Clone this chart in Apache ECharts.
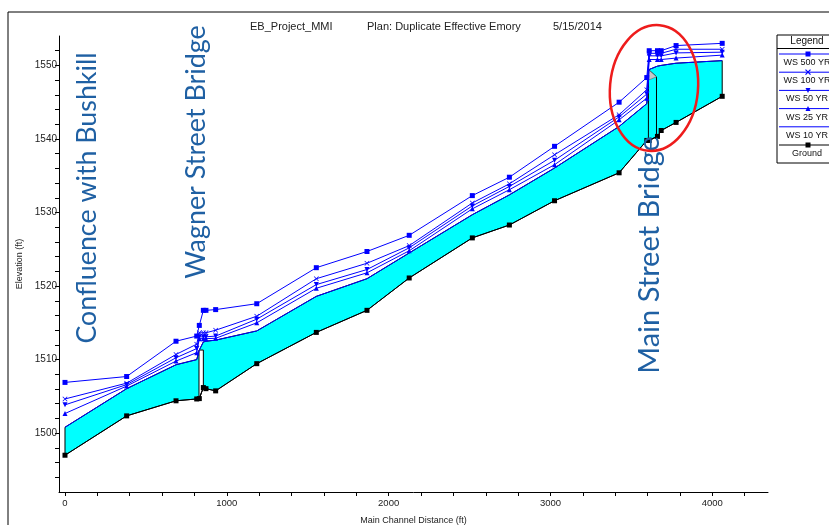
<!DOCTYPE html>
<html><head><meta charset="utf-8">
<script src="https://cdn.jsdelivr.net/npm/echarts@6/dist/echarts.min.js"></script>
<style>html,body{margin:0;padding:0;background:#fff}#c{width:829px;height:525px}</style>
</head><body><div id="c"></div>
<script>
// ---- data ----
const stations = [0, 381, 686, 814, 830, 855, 871, 931, 1185, 1553, 1866, 2127, 2517, 2746, 3025, 3424, 3595, 3610, 3661, 3684, 3776, 4061];
const ws500 = [1506.9, 1507.7, 1512.5, 1513.2, 1514.65, 1516.7, 1516.7, 1516.8, 1517.6, 1522.5, 1524.7, 1526.9, 1532.3, 1534.8, 1539.0, 1545.0, 1548.35, 1552.0, 1552.0, 1552.0, 1552.7, 1553.0];
const ws100 = [1504.65, 1506.8, 1510.7, 1512.1, 1513.65, 1513.65, 1513.65, 1514.0, 1515.9, 1521.0, 1523.1, 1525.5, 1531.3, 1533.9, 1537.85, 1543.3, 1546.7, 1551.65, 1551.65, 1551.65, 1552.2, 1552.2];
const ws50 = [1503.85, 1506.6, 1510.25, 1511.5, 1513.1, 1513.1, 1513.1, 1513.2, 1515.5, 1520.2, 1522.25, 1525.2, 1530.9, 1533.55, 1537.1, 1543.0, 1546.1, 1551.3, 1551.3, 1551.3, 1551.7, 1551.8];
const ws25 = [1502.67, 1506.4, 1509.8, 1510.95, 1512.85, 1512.85, 1512.85, 1512.9, 1515.0, 1519.7, 1521.8, 1524.8, 1530.5, 1533.1, 1536.5, 1542.6, 1545.55, 1550.8, 1550.8, 1550.8, 1551.0, 1551.4];
const ws10 = [1500.8, 1506.05, 1509.3, 1510.0, 1511.3, 1512.4, 1512.5, 1512.65, 1513.9, 1518.6, 1521.0, 1524.5, 1529.7, 1532.4, 1536.05, 1541.7, 1544.8, 1549.45, 1549.9, 1550.0, 1550.3, 1550.65];
const ground = [1497.0, 1502.35, 1504.4, 1504.65, 1504.7, 1506.2, 1506.05, 1505.75, 1509.45, 1513.7, 1516.7, 1521.1, 1526.55, 1528.3, 1531.6, 1535.4, 1539.8, 1539.8, 1540.35, 1541.15, 1542.25, 1545.8];

const wagnerBridgeX = [828, 855];
const wagnerBridgeTop = [1511.3, 1511.3];
const wagnerBridgeBottom = [1504.7, 1506.2];
const mainBridgeX = [3605, 3655];
const mainBridgeTop = [1549.45, 1548.45];
const mainBridgeBottom = [1539.8, 1540.3];
const mainDeckLow = [1548.0];

const xLabelValues = [0, 1000, 2000, 3000, 4000];
const xTickValues = [0, 200, 400, 600, 800, 1000, 1200, 1400, 1600, 1800, 2000, 2200, 2400, 2600, 2800, 3000, 3200, 3400, 3600, 3800, 4000, 4200];
const yLabelValues = [1500, 1510, 1520, 1530, 1540, 1550];
const yTickValues = [1494, 1496, 1498, 1500, 1502, 1504, 1506, 1508, 1510, 1512, 1514, 1516, 1518, 1520, 1522, 1524, 1526, 1528, 1530, 1532, 1534, 1536, 1538, 1540, 1542, 1544, 1546, 1548, 1550, 1552];

const legendNames = ['WS 500 YR', 'WS 100 YR', 'WS 50 YR', 'WS 25 YR', 'WS 10 YR', 'Ground'];
const annotations = ['Confluence with Bushkill', 'Wagner Street Bridge', 'Main Street Bridge'];

// ---- chart ----
const blue = '#0000ff';
const ff = '"Liberation Sans", Arial, sans-serif';
const xSym = 'path://M0,1L1,0L5,4L9,0L10,1L6,5L10,9L9,10L5,6L1,10L0,9L4,5Z';
const triDown = 'path://M0,0L10,0L5,10Z';

function pairs(ys) { return stations.map((s, i) => [s, ys[i]]); }

function wsSeries(name, ys, symbol) {
  return {
    name: name, type: 'line', data: pairs(ys), z: 5,
    symbol: symbol, symbolSize: symbol === 'none' ? 0 : 5, showSymbol: symbol !== 'none',
    lineStyle: { color: blue, width: 1 }, itemStyle: { color: blue },
    emphasis: { disabled: true }
  };
}

const chart = echarts.init(document.getElementById('c'), null, { renderer: 'canvas' });

const axisTxt = { fontFamily: ff, fontSize: 9, color: '#222' };
const plain = function (v) { return String(v); };

const option = {
  animation: false,
  title: [
    { text: 'EB_Project_MMI', left: 245, top: 16, textStyle: { fontFamily: ff, fontSize: 11, fontWeight: 'normal', color: '#222' } },
    { text: 'Plan: Duplicate Effective Emory', left: 362, top: 16, textStyle: { fontFamily: ff, fontSize: 11, fontWeight: 'normal', color: '#222' } },
    { text: '5/15/2014', left: 548, top: 16, textStyle: { fontFamily: ff, fontSize: 11, fontWeight: 'normal', color: '#222' } }
  ],
  grid: { left: 59, right: 61, top: 36, bottom: 33, containLabel: false, outerBoundsMode: 'none' },
  xAxis: {
    type: 'value', min: -37, max: 4344,
    name: 'Main Channel Distance (ft)', nameLocation: 'middle', nameGap: 24, nameTextStyle: axisTxt,
    axisLine: { show: true, onZero: false, lineStyle: { color: '#000', width: 1 } },
    axisTick: { show: true, customValues: xTickValues, length: 4, lineStyle: { color: '#000' } },
    axisLabel: { customValues: xLabelValues, formatter: plain, margin: 6, fontFamily: ff, fontSize: 9.5, color: '#222' },
    splitLine: { show: false }
  },
  yAxis: {
    type: 'value', min: 1492, max: 1554,
    name: 'Elevation (ft)', nameLocation: 'middle', nameGap: 33, nameTextStyle: axisTxt,
    axisLine: { show: true, onZero: false, lineStyle: { color: '#000', width: 1 } },
    axisTick: { show: true, customValues: yTickValues, length: 4, lineStyle: { color: '#000' } },
    axisLabel: { customValues: yLabelValues, formatter: plain, margin: 2, fontFamily: ff, fontSize: 10, color: '#222' },
    splitLine: { show: false }
  },
  series: [
    {
      name: 'water', type: 'custom', z: 1, silent: true, clip: false,
      data: [[stations[0], ground[0]]],
      renderItem: function (params, api) {
        const pts = [];
        for (let i = 0; i < stations.length; i++) pts.push(api.coord([stations[i], ws10[i]]));
        for (let i = stations.length - 1; i >= 0; i--) pts.push(api.coord([stations[i], ground[i]]));
        return { type: 'polygon', shape: { points: pts }, style: { fill: '#00ffff', stroke: '#000', lineWidth: 1 } };
      }
    },
    {
      name: 'bridges', type: 'custom', z: 3, silent: true, clip: false,
      data: [[wagnerBridgeX[0], wagnerBridgeTop[0]]],
      renderItem: function (params, api) {
        const w = [
          api.coord([wagnerBridgeX[0], wagnerBridgeBottom[0]]),
          api.coord([wagnerBridgeX[0], wagnerBridgeTop[0]]),
          api.coord([wagnerBridgeX[1], wagnerBridgeTop[1]]),
          api.coord([wagnerBridgeX[1], wagnerBridgeBottom[1]])
        ];
        const m = [
          api.coord([mainBridgeX[0], mainBridgeBottom[0]]),
          api.coord([mainBridgeX[0], mainBridgeTop[0]]),
          api.coord([mainBridgeX[1], mainBridgeTop[1]]),
          api.coord([mainBridgeX[1], mainBridgeBottom[1]])
        ];
        const tri = [
          api.coord([mainBridgeX[0], mainBridgeTop[0]]),
          api.coord([mainBridgeX[1], mainBridgeTop[1]]),
          api.coord([mainBridgeX[0], mainDeckLow[0]])
        ];
        return {
          type: 'group', children: [
            { type: 'polygon', shape: { points: w }, style: { fill: '#fff', stroke: '#000', lineWidth: 1 } },
            { type: 'polygon', shape: { points: m }, style: { fill: 'none', stroke: '#000', lineWidth: 1 } },
            { type: 'polygon', shape: { points: tri }, style: { fill: '#c8c8c8', stroke: '#555', lineWidth: 0.5 } }
          ]
        };
      }
    },
    wsSeries(legendNames[0], ws500, 'rect'),
    wsSeries(legendNames[1], ws100, xSym),
    wsSeries(legendNames[2], ws50, triDown),
    wsSeries(legendNames[3], ws25, 'triangle'),
    wsSeries(legendNames[4], ws10, 'none'),
    {
      name: legendNames[5], type: 'line', data: pairs(ground), z: 6,
      symbol: 'rect', symbolSize: 5,
      lineStyle: { color: '#000', width: 1 }, itemStyle: { color: '#000' },
      emphasis: { disabled: true }
    }
  ],
  graphic: []
};

// legend box (custom layout: sample line above, name below)
const lg = [];
lg.push({ type: 'rect', shape: { x: 777, y: 35, width: 70, height: 128 }, style: { fill: '#fff', stroke: '#000', lineWidth: 1 } });
lg.push({ type: 'text', x: 807, y: 41, style: { text: 'Legend', fontFamily: ff, fontSize: 10, fill: '#111', align: 'center', verticalAlign: 'middle' } });
lg.push({ type: 'line', shape: { x1: 777, y1: 48.5, x2: 847, y2: 48.5 }, style: { stroke: '#000', lineWidth: 1 } });
const lgSyms = ['rect', 'x', 'down', 'up', 'none', 'rect'];
for (let i = 0; i < legendNames.length; i++) {
  const ly = 54 + i * 18.2;
  const col = i === 5 ? '#000' : blue;
  lg.push({ type: 'line', shape: { x1: 779, y1: ly, x2: 847, y2: ly }, style: { stroke: col, lineWidth: 1 } });
  const s = lgSyms[i], cx = 808;
  if (s === 'rect') lg.push({ type: 'rect', shape: { x: cx - 2.5, y: ly - 2.5, width: 5, height: 5 }, style: { fill: col } });
  if (s === 'x') {
    lg.push({ type: 'line', shape: { x1: cx - 2.5, y1: ly - 2.5, x2: cx + 2.5, y2: ly + 2.5 }, style: { stroke: col, lineWidth: 1.2 } });
    lg.push({ type: 'line', shape: { x1: cx - 2.5, y1: ly + 2.5, x2: cx + 2.5, y2: ly - 2.5 }, style: { stroke: col, lineWidth: 1.2 } });
  }
  if (s === 'down') lg.push({ type: 'polygon', shape: { points: [[cx - 2.5, ly - 2.5], [cx + 2.5, ly - 2.5], [cx, ly + 2.5]] }, style: { fill: col } });
  if (s === 'up') lg.push({ type: 'polygon', shape: { points: [[cx - 2.5, ly + 2.5], [cx + 2.5, ly + 2.5], [cx, ly - 2.5]] }, style: { fill: col } });
  lg.push({ type: 'text', x: 807, y: ly + 8.5, style: { text: legendNames[i], fontFamily: ff, fontSize: 9, fill: '#111', align: 'center', verticalAlign: 'middle' } });
}
option.graphic.push({ type: 'group', z: 10, children: lg });

// outer frame
option.graphic.push({ type: 'rect', z: 0, shape: { x: 8, y: 12, width: 900, height: 600 }, style: { fill: 'none', stroke: '#000', lineWidth: 1 } });

// annotations
const annFont = 'Lato, "Open Sans", sans-serif';
const annColor = '#1f60a3';
const annPos = [[87, 198], [196, 152], [650, 255]];
const annSize = [26.8, 26.9, 29];
for (let i = 0; i < annotations.length; i++) {
  option.graphic.push({ type: 'text', z: 20, x: annPos[i][0], y: annPos[i][1], rotation: Math.PI / 2,
    style: { text: annotations[i], fontFamily: annFont, fontSize: annSize[i], fill: annColor, align: 'center', verticalAlign: 'middle' } });
}

// red ellipse
option.graphic.push({ type: 'ellipse', z: 21, x: 654, y: 88, rotation: -0.09, shape: { cx: 0, cy: 0, rx: 44, ry: 63 },
  style: { fill: 'none', stroke: '#ee1c1c', lineWidth: 2.5 } });

chart.setOption(option);
</script>
</body></html>
